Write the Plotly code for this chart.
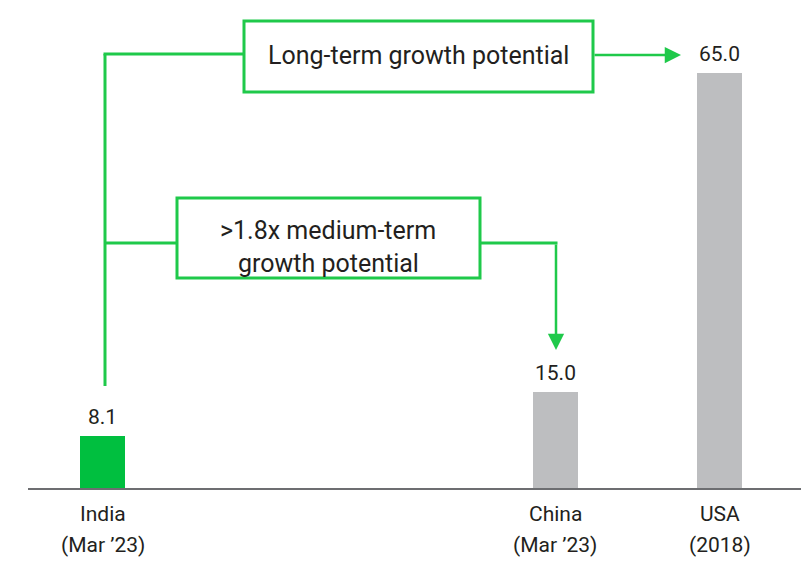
import plotly.graph_objects as go

# data
categories = ['India', 'China', 'USA']
periods = ['(Mar ’23)', '(Mar ’23)', '(2018)']
values = [8.1, 15.0, 65.0]
bar_colors = ['#00BF3F', '#BDBEC0', '#BDBEC0']

# layout: the x axis runs in page pixels so bars can sit at uneven spots
x_pos = [102.5, 555, 719.5]
PAGE_OFF = 8          # the html body margin
BASE = 488            # page row of the baseline
PLOT_H = BASE - PAGE_OFF
GREEN = '#1FC94A'
TEXT = '#231F20'
FONT = 'Roboto'


def py(y_pixel):
    # page pixel row -> paper coordinate (top margin is 0)
    return (BASE - y_pixel) / PLOT_H


fig = go.Figure()
fig.add_trace(go.Bar(x=x_pos, y=values, width=45, marker=dict(color=bar_colors, line=dict(width=0)),
                     hoverinfo='skip'))

# value labels above bars and two-line category labels under the axis
for x, v, cat, per in zip(x_pos, values, categories, periods):
    fig.add_annotation(x=x, y=v, xref='x', yref='y', text=f'{v:.1f}', showarrow=False,
                       yanchor='bottom', yshift=5, font=dict(size=21, color=TEXT, family=FONT))
    fig.add_annotation(x=x, y=0, xref='x', yref='y', text=cat, showarrow=False,
                       yanchor='middle', yshift=-26, font=dict(size=21, color=TEXT, family=FONT))
    fig.add_annotation(x=x, y=0, xref='x', yref='y', text=per, showarrow=False,
                       yanchor='middle', yshift=-57, font=dict(size=21, color=TEXT, family=FONT))

line = dict(color=GREEN, width=3)
shapes = [
    # boxes
    dict(type='rect', xref='x', yref='paper', x0=244, x1=593, y0=py(92), y1=py(21), line=line,
         fillcolor='white'),
    dict(type='rect', xref='x', yref='paper', x0=177, x1=480, y0=py(278), y1=py(198), line=line,
         fillcolor='white'),
    # connectors
    dict(type='line', xref='x', yref='paper', x0=105, x1=105, y0=py(54), y1=py(386), line=line),
    dict(type='line', xref='x', yref='paper', x0=103.5, x1=244, y0=py(54), y1=py(54), line=line),
    dict(type='line', xref='x', yref='paper', x0=105, x1=177, y0=py(243), y1=py(243), line=line),
    dict(type='line', xref='x', yref='paper', x0=480, x1=557.5, y0=py(243), y1=py(243), line=line),
]
fig.update_layout(shapes=shapes)

# arrows
fig.add_annotation(x=681, y=py(55), xref='x', yref='paper', ax=-88, ay=0,
                   text='', showarrow=True, arrowhead=2, arrowsize=1.3, arrowwidth=2.5, arrowcolor=GREEN)
fig.add_annotation(x=556, y=py(350), xref='x', yref='paper', ax=0, ay=-107,
                   text='', showarrow=True, arrowhead=2, arrowsize=1.3, arrowwidth=2.5, arrowcolor=GREEN)

# box texts
box_font = dict(size=25, color=TEXT, family=FONT)
for txt, tx, ty in [('Long-term growth potential', 418, 56),
                    ('>1.8x medium-term', 328, 230),
                    ('growth potential', 328, 263)]:
    fig.add_annotation(x=tx, y=py(ty), xref='x', yref='paper', text=txt, showarrow=False,
                       xanchor='center', yanchor='middle', font=box_font)

fig.update_xaxes(range=[28, 801], showline=True, linecolor='#6D6E71', linewidth=1.5,
                 showgrid=False, zeroline=False, showticklabels=False, ticks='', fixedrange=True)
fig.update_yaxes(range=[0, PLOT_H * 65.0 / 415], visible=False, fixedrange=True)
fig.update_layout(
    width=811 - PAGE_OFF, height=562 - PAGE_OFF,
    margin=dict(l=28 - PAGE_OFF, r=10, t=0, b=562 - BASE),
    plot_bgcolor='white', paper_bgcolor='white',
    showlegend=False, bargap=0,
    font=dict(family=FONT, color=TEXT),
)

fig.write_html('out.html')
